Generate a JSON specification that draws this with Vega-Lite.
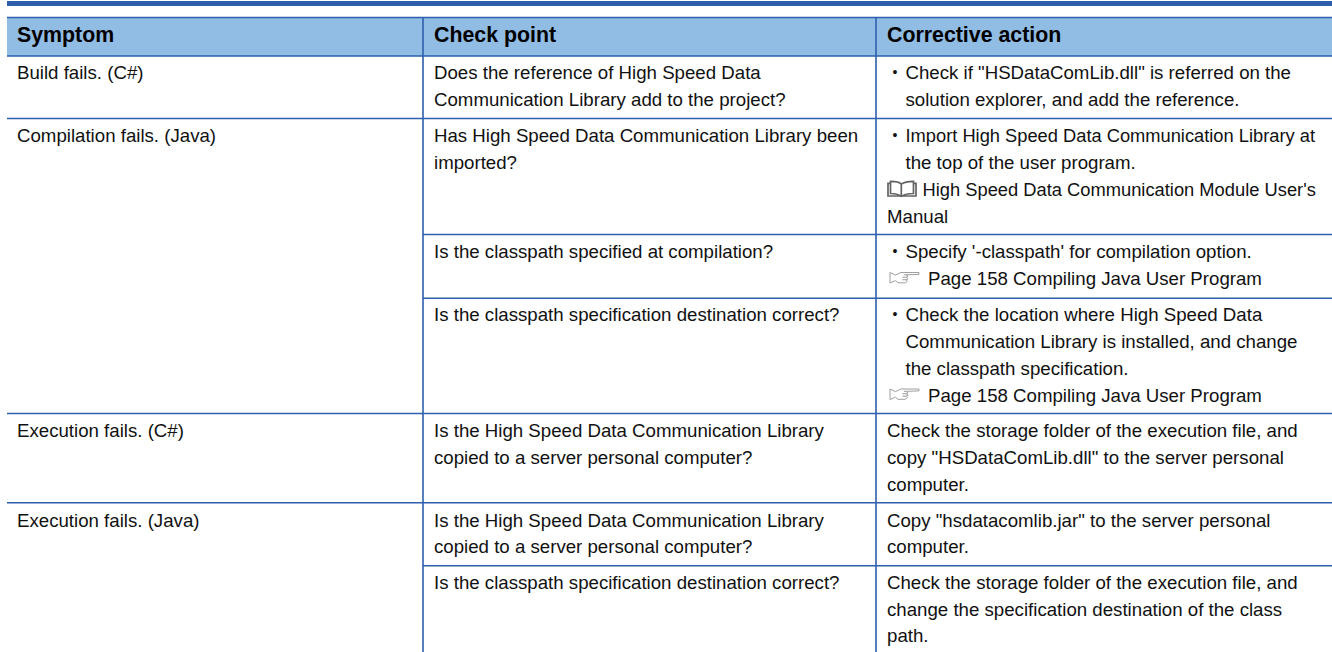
{
"$schema":"https://vega.github.io/schema/vega-lite/v6.json",
"width":1332,"height":652,"padding":0,
"autosize":{"type":"fit","contains":"padding"},
"background":"white",
"config":{"view":{"stroke":null},"text":{"font":"Liberation Sans"}},
"datasets":{
"bands":[{"name":"top bar","x0":0,"x1":3,"t0":-3,"t1":-2.5,"fill":"bar"},{"name":"header","x0":0,"x1":3,"t0":-1,"t1":0.5,"fill":"head"}],
"rules":[
{"x0":0,"x1":3,"t":-1},{"x0":0,"x1":3,"t":0.5},{"x0":0,"x1":3,"t":2.5},
{"x0":1,"x1":3,"t":6.5},{"x0":1,"x1":3,"t":8.5},{"x0":0,"x1":3,"t":12.5},
{"x0":0,"x1":3,"t":15.5},{"x0":1,"x1":3,"t":17.5}],
"verts":[{"c":1,"t0":-1,"t1":21},{"c":2,"t0":-1,"t1":21}],
"icons":[{"c":2,"line":5,"icon":"book"},{"c":2,"line":8,"icon":"hand"},{"c":2,"line":12,"icon":"hand"}],
"cells":[
{"c":0,"line":0,"kind":"head","text":"Symptom"},
{"c":1,"line":0,"kind":"head","text":"Check point"},
{"c":2,"line":0,"kind":"head","text":"Corrective action"},
{"c":0,"line":1,"kind":"plain","text":"Build fails. (C#)"},
{"c":0,"line":3,"kind":"plain","text":"Compilation fails. (Java)"},
{"c":0,"line":13,"kind":"plain","text":"Execution fails. (C#)"},
{"c":0,"line":16,"kind":"plain","text":"Execution fails. (Java)"},
{"c":1,"line":1,"kind":"plain","text":"Does the reference of High Speed Data"},
{"c":1,"line":2,"kind":"plain","text":"Communication Library add to the project?"},
{"c":1,"line":3,"kind":"plain","text":"Has High Speed Data Communication Library been"},
{"c":1,"line":4,"kind":"plain","text":"imported?"},
{"c":1,"line":7,"kind":"plain","text":"Is the classpath specified at compilation?"},
{"c":1,"line":9,"kind":"plain","text":"Is the classpath specification destination correct?"},
{"c":1,"line":13,"kind":"plain","text":"Is the High Speed Data Communication Library"},
{"c":1,"line":14,"kind":"plain","text":"copied to a server personal computer?"},
{"c":1,"line":16,"kind":"plain","text":"Is the High Speed Data Communication Library"},
{"c":1,"line":17,"kind":"plain","text":"copied to a server personal computer?"},
{"c":1,"line":18,"kind":"plain","text":"Is the classpath specification destination correct?"},
{"c":2,"line":1,"kind":"bullet","text":"Check if \"HSDataComLib.dll\" is referred on the"},
{"c":2,"line":2,"kind":"indent","text":"solution explorer, and add the reference."},
{"c":2,"line":3,"kind":"bulletfit","text":"Import High Speed Data Communication Library at"},
{"c":2,"line":4,"kind":"indent","text":"the top of the user program."},
{"c":2,"line":5,"kind":"book","text":"High Speed Data Communication Module User's"},
{"c":2,"line":6,"kind":"plain","text":"Manual"},
{"c":2,"line":7,"kind":"bullet","text":"Specify '-classpath' for compilation option."},
{"c":2,"line":8,"kind":"hand","text":"Page 158 Compiling Java User Program"},
{"c":2,"line":9,"kind":"bullet","text":"Check the location where High Speed Data"},
{"c":2,"line":10,"kind":"indent","text":"Communication Library is installed, and change"},
{"c":2,"line":11,"kind":"indent","text":"the classpath specification."},
{"c":2,"line":12,"kind":"hand","text":"Page 158 Compiling Java User Program"},
{"c":2,"line":13,"kind":"plain","text":"Check the storage folder of the execution file, and"},
{"c":2,"line":14,"kind":"plain","text":"copy \"HSDataComLib.dll\" to the server personal"},
{"c":2,"line":15,"kind":"plain","text":"computer."},
{"c":2,"line":16,"kind":"plain","text":"Copy \"hsdatacomlib.jar\" to the server personal"},
{"c":2,"line":17,"kind":"plain","text":"computer."},
{"c":2,"line":18,"kind":"plain","text":"Check the storage folder of the execution file, and"},
{"c":2,"line":19,"kind":"plain","text":"change the specification destination of the class"},
{"c":2,"line":20,"kind":"plain","text":"path."}
]},
"layer":[
{"data":{"name":"bands"},"mark":{"type":"rect"},
 "encoding":{
 "x":{"field":"x0","type":"quantitative","axis":null,"scale":{"domain":[0,1,2,3],"range":[7,423,876,1332],"nice":false,"zero":false}},
 "x2":{"field":"x1"},
 "y":{"field":"t0","type":"quantitative","axis":null,"scale":{"domain":[-3,-2.5,-1,0,0.5,1,2,2.5,3,4,5,6,6.5,7,8,8.5,9,10,11,12,12.5,13,14,15,15.5,16,17,17.5,18,19,20,21],"range":[1,6,17.5,42,56,79,106,118.5,142,169,196,222.5,234.5,258,285,298.3,321,348,375,401.5,413.5,437,464,491,502.7,526.7,552.5,565.7,588.5,615.5,642,652],"nice":false,"zero":false}},
 "y2":{"field":"t1"},
 "color":{"field":"fill","type":"nominal","legend":null,"scale":{"domain":["bar","head"],"range":["#2E5FAC","#91BCE3"]}}}},
{"data":{"name":"rules"},"mark":{"type":"rule","color":"#2E5FAC","strokeWidth":1.6},
 "encoding":{"x":{"field":"x0","type":"quantitative"},"x2":{"field":"x1"},"y":{"field":"t","type":"quantitative"}}},
{"data":{"name":"verts"},"mark":{"type":"rule","color":"#2E5FAC","strokeWidth":1.6},
 "encoding":{"x":{"field":"c","type":"quantitative"},"y":{"field":"t0","type":"quantitative"},"y2":{"field":"t1"}}},
{"data":{"name":"cells"},"transform":[{"filter":"datum.kind==='head' && datum.c===0"}],"mark":{"type":"text","align":"left","baseline":"alphabetic","font":"Liberation Sans","fontWeight":"bold","fontSize":21.33,"color":"#000","dx":10},
 "encoding":{"x":{"field":"c","type":"quantitative"},"y":{"field":"line","type":"quantitative"},"text":{"field":"text"}}},
{"data":{"name":"cells"},"transform":[{"filter":"datum.kind==='head' && datum.c>0"}],"mark":{"type":"text","align":"left","baseline":"alphabetic","font":"Liberation Sans","fontWeight":"bold","fontSize":21.33,"color":"#000","dx":11},
 "encoding":{"x":{"field":"c","type":"quantitative"},"y":{"field":"line","type":"quantitative"},"text":{"field":"text"}}},
{"data":{"name":"cells"},"transform":[{"filter":"datum.kind==='plain' && datum.c===0"}],"mark":{"type":"text","align":"left","baseline":"alphabetic","font":"Liberation Sans","fontSize":18.67,"color":"#111","dx":10},
 "encoding":{"x":{"field":"c","type":"quantitative"},"y":{"field":"line","type":"quantitative"},"text":{"field":"text"}}},
{"data":{"name":"cells"},"transform":[{"filter":"datum.kind==='plain' && datum.c>0"}],"mark":{"type":"text","align":"left","baseline":"alphabetic","font":"Liberation Sans","fontSize":18.67,"color":"#111","dx":11},
 "encoding":{"x":{"field":"c","type":"quantitative"},"y":{"field":"line","type":"quantitative"},"text":{"field":"text"}}},
{"data":{"name":"cells"},"transform":[{"filter":"datum.kind==='bullet' || datum.kind==='indent'"}],"mark":{"type":"text","align":"left","baseline":"alphabetic","font":"Liberation Sans","fontSize":18.67,"color":"#111","dx":29.5},
 "encoding":{"x":{"field":"c","type":"quantitative"},"y":{"field":"line","type":"quantitative"},"text":{"field":"text"}}},
{"data":{"name":"cells"},"transform":[{"filter":"datum.kind==='bulletfit'"}],"mark":{"type":"text","align":"left","baseline":"alphabetic","font":"Liberation Sans","fontSize":18.3,"color":"#111","dx":29.5},
 "encoding":{"x":{"field":"c","type":"quantitative"},"y":{"field":"line","type":"quantitative"},"text":{"field":"text"}}},
{"data":{"name":"cells"},"transform":[{"filter":"datum.kind==='bullet' || datum.kind==='bulletfit'"}],"mark":{"type":"text","align":"left","baseline":"alphabetic","font":"Liberation Sans","fontSize":14,"color":"#111","dx":16.5,"dy":-2,"text":"•"},
 "encoding":{"x":{"field":"c","type":"quantitative"},"y":{"field":"line","type":"quantitative"}}},
{"data":{"name":"cells"},"transform":[{"filter":"datum.kind==='book'"}],"mark":{"type":"text","align":"left","baseline":"alphabetic","font":"Liberation Sans","fontSize":18.32,"color":"#111","dx":46.5},
 "encoding":{"x":{"field":"c","type":"quantitative"},"y":{"field":"line","type":"quantitative"},"text":{"field":"text"}}},
{"data":{"name":"cells"},"transform":[{"filter":"datum.kind==='hand'"}],"mark":{"type":"text","align":"left","baseline":"alphabetic","font":"Liberation Sans","fontSize":18.67,"color":"#111","dx":52},
 "encoding":{"x":{"field":"c","type":"quantitative"},"y":{"field":"line","type":"quantitative"},"text":{"field":"text"}}},
{"data":{"name":"icons"},"transform":[{"filter":"datum.icon==='book'"}],
 "mark":{"type":"point","filled":false,"size":784,"stroke":"#222","strokeWidth":1.7,"xOffset":26,"yOffset":-7,
 "shape":"M-0.05,0.55 C-0.25,0.32 -0.55,0.32 -0.82,0.32 L-0.82,-0.55 C-0.55,-0.55 -0.2,-0.55 -0.05,-0.35 L-0.05,0.55 M-0.82,-0.4 L-1,-0.4 L-1,0.5 L-0.15,0.5 M-0.05,0.55 C0.15,0.32 0.55,0.32 0.82,0.32 L0.82,-0.55 C0.55,-0.55 0.2,-0.55 -0.05,-0.35 M0.82,-0.4 L1,-0.4 L1,0.5 L0.05,0.5"},
 "encoding":{"x":{"field":"c","type":"quantitative"},"y":{"field":"line","type":"quantitative"}}},
{"data":{"name":"icons"},"transform":[{"filter":"datum.icon==='hand'"}],
 "mark":{"type":"point","filled":false,"size":841,"stroke":"#777","strokeWidth":1,"xOffset":28.5,"yOffset":-7,
 "shape":"M-1,-0.38 L-0.62,-0.2 L-0.25,-0.38 L1,-0.38 L1,-0.25 L0.1,-0.22 L0.25,-0.12 L0.12,-0.05 L0.25,0.05 L0.1,0.12 L0.2,0.22 L0.05,0.33 L-0.45,0.33 L-0.62,0.18 L-1,0.35 Z M-0.05,-0.22 L0.1,-0.22 M-0.15,-0.05 L0.12,-0.05 M-0.15,0.12 L0.1,0.12"},
 "encoding":{"x":{"field":"c","type":"quantitative"},"y":{"field":"line","type":"quantitative"}}}
]
}
